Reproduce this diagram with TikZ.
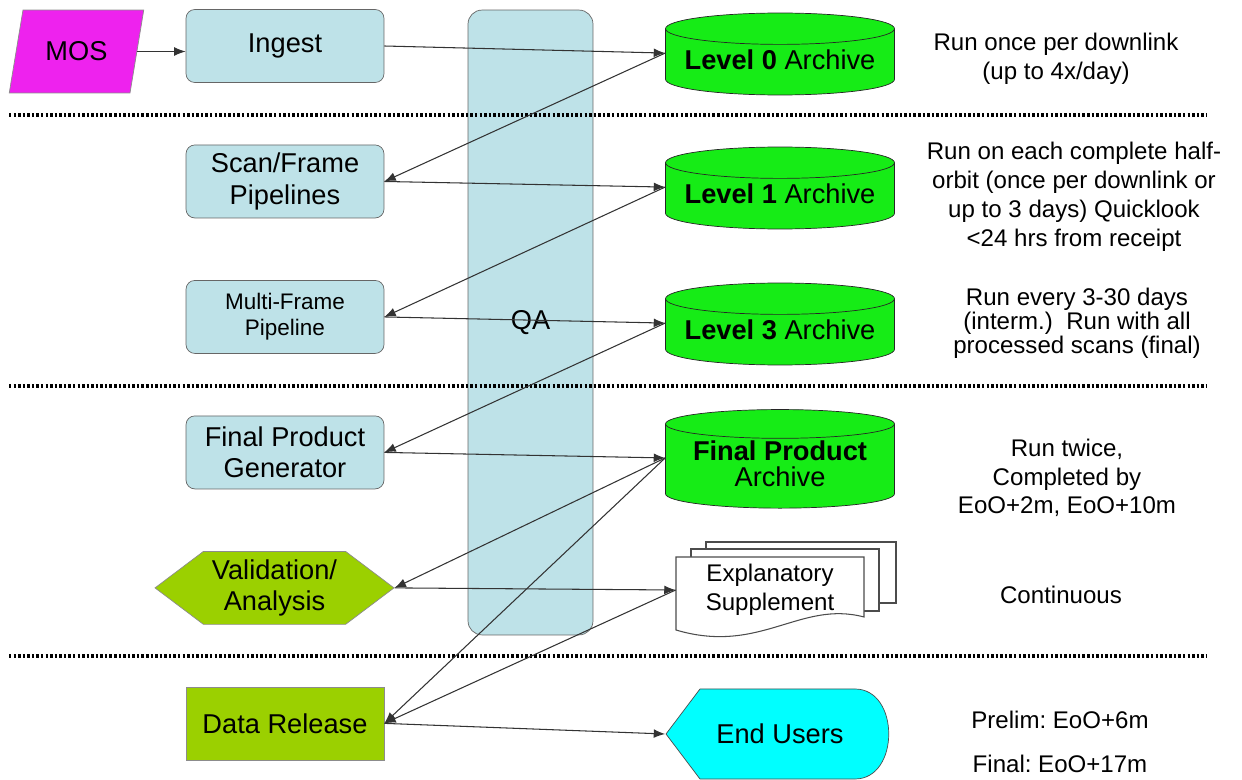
\documentclass[tikz,border=0pt]{standalone}
\usepackage{fontspec}
\setmainfont{Liberation Sans}
\usepackage{tikz}
\usetikzlibrary{arrows,arrows.meta,positioning,shapes.geometric,shapes.symbols}
\definecolor{qablue}{RGB}{190,226,232}
\definecolor{archgreen}{RGB}{22,236,22}
\definecolor{valgreen}{RGB}{155,208,0}
\definecolor{mosmag}{RGB}{238,34,238}
\definecolor{userscyan}{RGB}{0,255,255}
\newcommand{\boxfont}{\fontsize{15.5}{18}\selectfont}
\newcommand{\notefont}{\fontsize{13.7}{16.4}\selectfont}
\newcommand{\smallboxfont}{\fontsize{12.8}{14.6}\selectfont}
\frenchspacing
\tikzstyle{proc}=[rectangle,rounded corners=5pt,draw=black!60,fill=qablue,minimum width=3.96cm,minimum height=1.46cm,align=center,font=\boxfont]
\tikzstyle{archive}=[cylinder,shape border rotate=90,aspect=0.155,draw=black!85,fill=archgreen,minimum width=4.58cm,minimum height=1.64cm,inner ysep=1pt,text depth=6pt,align=center,font=\boxfont]
\tikzstyle{valid}=[signal,signal to=west and east,signal pointer angle=74,draw=black!45,fill=valgreen,minimum width=4.78cm,minimum height=1.46cm,align=center,font=\boxfont]
\tikzstyle{release}=[rectangle,draw=black!45,fill=valgreen,minimum width=3.96cm,minimum height=1.46cm,font=\boxfont]
\tikzstyle{mosbox}=[trapezium,trapezium left angle=73,trapezium right angle=107,trapezium stretches=true,draw=black!45,fill=mosmag,minimum width=2.7cm,minimum height=1.66cm,font=\boxfont]
\tikzstyle{note}=[align=center,font=\notefont]
\tikzstyle{page}=[draw=black!70,fill=white,line width=0.6pt]
\tikzstyle{sepline}=[line width=2pt,dash pattern=on 1.4pt off 1.2pt]
\tikzstyle{every edge}=[draw,>={Latex[length=6.5pt,width=5pt]},line width=0.6pt,black!80]

\begin{document}
\frenchspacing
\begin{tikzpicture}[x=0.02cm,y=-0.02cm,node distance=2.71cm]
  \useasboundingbox (0,0) rectangle (1242,780);
  \node[proc,rounded corners=8pt,minimum width=2.5cm,minimum height=12.5cm] (qa) at (530.5,322.5) {QA};
  \foreach \y in {115,386,656}
    \draw[sepline] (9,\y) -- (1207,\y);

  \node[mosbox]          (mos) at (76.5,51.5) {MOS};
  \node[proc]            (ingest) at (285,46) {Ingest};
  \node[proc]            (scan) [below of=ingest] {Scan/Frame\\Pipelines};
  \node[proc,font=\smallboxfont] (multi) [below of=scan] {Multi-Frame\\Pipeline};
  \node[proc]            (fpg) [below of=multi] {Final Product\\Generator};
  \node[valid]           (val) [below of=fpg,xshift=-0.21cm] {Validation/\\Analysis};
  \node[release]         (rel) [below of=fpg,node distance=5.42cm] {Data Release};

  \node[archive]         (l0) at (780,64.5) {\textbf{Level 0} Archive};
  \node[archive]         (l1) at (780,198.5) {\textbf{Level 1} Archive};
  \node[archive]         (l3) at (780,334.5) {\textbf{Level 3} Archive};
  \node[archive,font=\fontsize{15.5}{14.7}\selectfont] (fpa) at (780,468.5) {\textbf{Final Product}\\Archive};

  % explanatory supplement pages
  \draw[page] (706,542) rectangle (896,603);
  \draw[page] (691,549) rectangle (879,611);
  \draw[page] (676,557) -- (864,557) -- (864,617) .. controls (800,600) and (760,655) .. (676,630) -- cycle;
  \node[note,minimum width=3.76cm,minimum height=1.46cm] (exp) at (770,590) {Explanatory\\Supplement};

  % end users
  \draw[draw=black!70,fill=userscyan] (666,734) -- (700,689) -- (855,689) .. controls (900,689) and (900,779) .. (855,779) -- (700,779) -- cycle;
  \node[minimum width=4.58cm,minimum height=1.8cm,font=\boxfont] (users) at (780,734) {End Users};

  \node[note] (n0) at (1056,59) {Run once per downlink\\(up to 4x/day)};
  \node[note] (n1) at (1074,197) {Run on each complete half-\\orbit (once per downlink or\\up to 3 days) Quicklook\\<24 hrs from receipt};
  \node[note,font=\fontsize{13.7}{12.4}\selectfont] (n3) at (1077,323) {Run every 3-30 days\\(interm.)\ \ Run with all\\processed scans (final)};
  \node[note] (n4) at (1067,478) {Run twice,\\Completed by\\EoO+2m, EoO+10m};
  \node[note] (n5) at (1061,595) {Continuous};
  \node[note] (n6) at (1060,742) {Prelim: EoO+6m\\[9pt]Final: EoO+17m};

  \path[->] (mos.east) edge (mos.east -| ingest.west)
        (ingest.east) edge ([yshift=6.5pt]l0.west)
        ([yshift=6.5pt]l0.west) edge (scan.east)
        (scan.east) edge ([yshift=6.5pt]l1.west)
        ([yshift=6.5pt]l1.west) edge (multi.east)
        (multi.east) edge ([yshift=6.5pt]l3.west)
        ([yshift=6.5pt]l3.west) edge (fpg.east)
        (fpg.east) edge ([yshift=6pt]fpa.west)
        ([yshift=6pt]fpa.west) edge (val.east)
                   edge (rel.east)
        (val.east) edge (exp.west)
        (exp.west) edge (rel.east)
        (rel.east) edge (users.west);
\end{tikzpicture}
\end{document}
